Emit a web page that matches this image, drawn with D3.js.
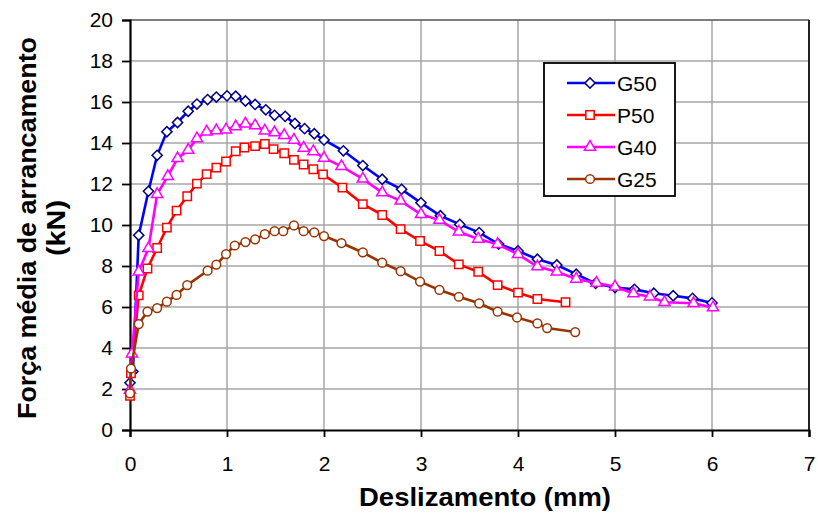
<!DOCTYPE html>
<html>
<head>
<meta charset="utf-8">
<script src="https://cdn.jsdelivr.net/npm/d3@7"></script>
<style>
  body { margin: 0; background: #fff; }
  text { font-family: "Liberation Sans", Arial, sans-serif; }
</style>
</head>
<body>
<script>
// data
var xTicks = [0, 1, 2, 3, 4, 5, 6, 7];
var yTicks = [0, 2, 4, 6, 8, 10, 12, 14, 16, 18, 20];

var g50X = [0, 0.03, 0.09, 0.19, 0.28, 0.38, 0.49, 0.6, 0.69, 0.8, 0.89, 1.0, 1.09, 1.19, 1.29, 1.4, 1.49, 1.6, 1.7, 1.8, 1.9, 2.0, 2.2, 2.4, 2.6, 2.8, 3.0, 3.2, 3.4, 3.6, 3.8, 4.0, 4.2, 4.4, 4.6, 4.8, 5.0, 5.2, 5.4, 5.6, 5.8, 6.0];
var g50Y = [2.3, 2.85, 9.5, 11.65, 13.4, 14.55, 15.0, 15.55, 15.9, 16.12, 16.24, 16.3, 16.28, 16.05, 15.88, 15.62, 15.35, 15.3, 14.95, 14.7, 14.45, 14.15, 13.62, 12.9, 12.23, 11.74, 11.08, 10.45, 10.03, 9.63, 9.07, 8.73, 8.33, 8.05, 7.6, 7.15, 6.95, 6.86, 6.67, 6.55, 6.42, 6.2];

var p50X = [0, 0.01, 0.09, 0.18, 0.28, 0.38, 0.48, 0.59, 0.69, 0.79, 0.89, 0.99, 1.09, 1.18, 1.29, 1.39, 1.48, 1.59, 1.69, 1.79, 1.89, 1.99, 2.19, 2.4, 2.6, 2.79, 2.99, 3.19, 3.39, 3.59, 3.79, 4.0, 4.2, 4.49];
var p50Y = [1.67, 2.77, 6.57, 7.88, 8.88, 9.87, 10.7, 11.4, 12.02, 12.48, 12.8, 13.1, 13.6, 13.78, 13.85, 13.95, 13.7, 13.5, 13.18, 12.95, 12.72, 12.47, 11.82, 11.02, 10.49, 9.8, 9.22, 8.73, 8.08, 7.72, 7.07, 6.7, 6.39, 6.23];

var g40X = [0, 0.02, 0.09, 0.19, 0.28, 0.39, 0.49, 0.6, 0.69, 0.79, 0.89, 0.99, 1.09, 1.19, 1.29, 1.39, 1.49, 1.59, 1.69, 1.79, 1.89, 2.0, 2.18, 2.4, 2.6, 2.79, 3.0, 3.19, 3.39, 3.59, 3.79, 4.0, 4.2, 4.4, 4.6, 4.81, 5.0, 5.19, 5.36, 5.51, 5.81, 6.01];
var g40Y = [1.95, 3.72, 7.72, 8.86, 11.5, 12.38, 13.25, 13.66, 14.22, 14.55, 14.61, 14.65, 14.8, 14.94, 14.85, 14.6, 14.51, 14.38, 14.15, 13.76, 13.59, 13.27, 12.86, 12.25, 11.58, 11.18, 10.52, 10.24, 9.67, 9.32, 9.06, 8.57, 7.97, 7.72, 7.37, 7.17, 6.99, 6.66, 6.5, 6.23, 6.18, 5.97];

var g25X = [0, 0.01, 0.09, 0.18, 0.28, 0.38, 0.48, 0.59, 0.8, 0.89, 0.99, 1.08, 1.19, 1.29, 1.39, 1.49, 1.58, 1.69, 1.79, 1.9, 2.0, 2.18, 2.4, 2.6, 2.79, 2.99, 3.19, 3.39, 3.6, 3.79, 3.99, 4.2, 4.3, 4.59];
var g25Y = [1.79, 3.0, 5.17, 5.78, 5.95, 6.26, 6.59, 7.07, 7.77, 8.07, 8.58, 9.0, 9.17, 9.3, 9.55, 9.7, 9.7, 9.98, 9.7, 9.64, 9.46, 9.12, 8.66, 8.16, 7.75, 7.24, 6.83, 6.5, 6.18, 5.77, 5.49, 5.2, 4.97, 4.78];

var names = ["G50", "P50", "G40", "G25"];

var width = 818, height = 515;
var margin = {left: 130, right: 9, top: 20, bottom: 85};
var w = width - margin.left - margin.right;
var h = height - margin.top - margin.bottom;

function zip(xs, ys) {
    return xs.map(function(x, i) { return {x: x, y: ys[i]}; });
}

var series = [
    {name: names[0], values: zip(g50X, g50Y), line: "#0000ff", mark: "#000080", symbol: "diamond"},
    {name: names[1], values: zip(p50X, p50Y), line: "#ff0000", mark: "#ff0000", symbol: "square"},
    {name: names[2], values: zip(g40X, g40Y), line: "#ff00ff", mark: "#ff00ff", symbol: "triangle"},
    {name: names[3], values: zip(g25X, g25Y), line: "#993300", mark: "#993300", symbol: "circle"}
];

//SCALES
var xScale = d3.scaleLinear().domain([0, 7]).range([0, w]);
var yScale = d3.scaleLinear().domain([0, 20]).range([h, 0]);

var svg = d3.select("body").append("svg")
    .attr("width", width)
    .attr("height", height);

var chartGroup = svg.append("g")
    .attr("transform", "translate(" + margin.left + "," + margin.top + ")");

// gridlines
chartGroup.append("g")
    .selectAll("line.gx")
    .data(xTicks.slice(1, -1))
    .enter().append("line")
        .attr("x1", function(d) { return xScale(d); })
        .attr("x2", function(d) { return xScale(d); })
        .attr("y1", 0).attr("y2", h)
        .attr("stroke", "#a6a6a6").attr("stroke-width", 1.5);

chartGroup.append("g")
    .selectAll("line.gy")
    .data(yTicks.slice(1, -1))
    .enter().append("line")
        .attr("y1", function(d) { return yScale(d); })
        .attr("y2", function(d) { return yScale(d); })
        .attr("x1", 0).attr("x2", w)
        .attr("stroke", "#a6a6a6").attr("stroke-width", 1.5);

// plot border top/right
chartGroup.append("line")
    .attr("x1", 0).attr("x2", w).attr("y1", 0).attr("y2", 0)
    .attr("stroke", "#555").attr("stroke-width", 1.5);
chartGroup.append("line")
    .attr("x1", w).attr("x2", w).attr("y1", 0).attr("y2", h)
    .attr("stroke", "#222").attr("stroke-width", 2);

// axes
var xAxis = chartGroup.append("g")
    .attr("transform", "translate(0," + h + ")")
    .call(d3.axisBottom(xScale).tickValues(xTicks).tickSize(7).tickPadding(19).tickFormat(d3.format("d")));

var yAxis = chartGroup.append("g")
    .call(d3.axisLeft(yScale).tickValues(yTicks).tickSize(8).tickPadding(9).tickFormat(d3.format("d")));

[xAxis, yAxis].forEach(function(a) {
    a.select(".domain").attr("stroke", "#000").attr("stroke-width", 2.2);
    a.selectAll(".tick line").attr("stroke", "#000").attr("stroke-width", 1.8);
    a.selectAll(".tick text")
        .attr("fill", "#000")
        .style("font-size", "21px")
        .style("font-family", "'Liberation Sans', Arial, sans-serif");
});

// lines and markers
var line = d3.line()
    .x(function(d) { return xScale(d.x); })
    .y(function(d) { return yScale(d.y); });

var symbols = {
    diamond: d3.symbol().type(d3.symbolSquare).size(52)(),
    square: d3.symbol().type(d3.symbolSquare).size(70)(),
    triangle: d3.symbol().type(d3.symbolTriangle).size(54)(),
    circle: d3.symbol().type(d3.symbolCircle).size(60)()
};
var rotate = {diamond: 45, square: 0, triangle: 0, circle: 0};

series.forEach(function(s) {
    var g = chartGroup.append("g").attr("class", "series");
    g.append("path")
        .attr("d", line(s.values))
        .attr("fill", "none")
        .attr("stroke", s.line)
        .attr("stroke-width", 2.6);
    g.selectAll("path.mark")
        .data(s.values)
        .enter().append("path")
            .attr("class", "mark")
            .attr("d", symbols[s.symbol])
            .attr("transform", function(d) {
                return "translate(" + xScale(d.x) + "," + yScale(d.y) + ") rotate(" + rotate[s.symbol] + ")";
            })
            .attr("fill", "#fff")
            .attr("stroke", s.mark)
            .attr("stroke-width", 1.5);
});

// legend
var legend = svg.append("g").attr("transform", "translate(544,63)");
legend.append("rect")
    .attr("width", 131).attr("height", 133)
    .attr("fill", "#fff").attr("stroke", "#000").attr("stroke-width", 1.8);

series.forEach(function(s, i) {
    var yy = 20 + i * 32;
    legend.append("line")
        .attr("x1", 23).attr("x2", 71).attr("y1", yy).attr("y2", yy)
        .attr("stroke", s.line).attr("stroke-width", 2.6);
    legend.append("path")
        .attr("d", symbols[s.symbol])
        .attr("transform", "translate(46," + yy + ") rotate(" + rotate[s.symbol] + ")")
        .attr("fill", "#fff").attr("stroke", s.mark).attr("stroke-width", 1.5);
    legend.append("text")
        .attr("x", 73).attr("y", yy + 7.5)
        .style("font-size", "21px")
        .text(s.name);
});

// axis titles
svg.append("text")
    .attr("x", margin.left + xScale(3.66)).attr("y", 506)
    .attr("text-anchor", "middle")
    .style("font-size", "25px").style("font-weight", "bold")
    .attr("textLength", 252).attr("lengthAdjust", "spacingAndGlyphs")
    .text("Deslizamento (mm)");

var yTitle = svg.append("g").attr("transform", "translate(36,228) rotate(-90)");
yTitle.append("text")
    .attr("text-anchor", "middle")
    .style("font-size", "25px").style("font-weight", "bold")
    .attr("textLength", 382).attr("lengthAdjust", "spacingAndGlyphs")
    .text("Força média de arrancamento");
yTitle.append("text")
    .attr("y", 29)
    .attr("text-anchor", "middle")
    .style("font-size", "25px").style("font-weight", "bold")
    .attr("textLength", 56).attr("lengthAdjust", "spacingAndGlyphs")
    .text("(kN)");
</script>
</body>
</html>
